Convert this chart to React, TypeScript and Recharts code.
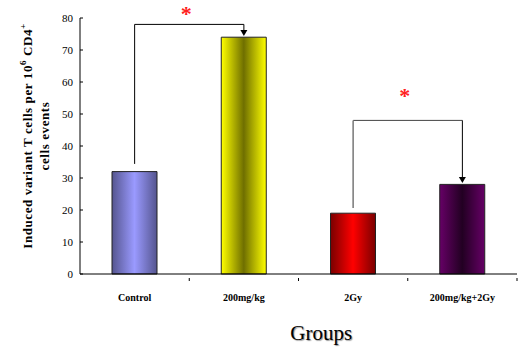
import React from 'react';
import { BarChart, Bar, XAxis, YAxis, Cell, ReferenceLine, ReferenceDot, Label } from 'recharts';

const categories = ['Control', '200mg/kg', '2Gy', '200mg/kg+2Gy'];
const values = [32, 74, 19, 28];
const yTicks = [0, 10, 20, 30, 40, 50, 60, 70, 80];

// gradient stops: [edge, center]
const gradients = [
  ['#55558f', '#9a9aff'],
  ['#ffff00', '#6f6f00'],
  ['#7a0000', '#ff0000'],
  ['#660066', '#220022'],
];

// significance brackets
const bracket1 = { from: 'Control', to: '200mg/kg', top: 78, leftFoot: 34.4, target: 74 };
const bracket2 = { from: '2Gy', to: '200mg/kg+2Gy', top: 48, leftFoot: 20.6, target: 28 };

const data = categories.map((c, i) => ({ name: c, value: values[i] }));

const SERIF = '"Liberation Serif", "Times New Roman", serif';

const Arrow = (props: any) => {
  const { cx, cy } = props;
  if (cx == null || cy == null) return null;
  return <path d={`M${cx - 3.5},${cy - 6} L${cx + 3.5},${cy - 6} L${cx},${cy} Z`} fill="#000" />;
};

const XTick = (props: any) => {
  const { x, y, payload, width, visibleTicksCount } = props;
  const band = (width || 436) / (visibleTicksCount || 4);
  return (
    <g>
      <line x1={x + band / 2} x2={x + band / 2} y1={y - 4} y2={y - 1} stroke="#000" />
      <text x={x} y={y + 19} textAnchor="middle" fontFamily={SERIF} fontWeight="bold" fontSize={10} fill="#000">
        {payload.value}
      </text>
    </g>
  );
};

const YLabel = (props: any) => {
  const { viewBox } = props;
  const cy = viewBox.y + viewBox.height / 2 - 10;
  return (
    <g>
      <text
        transform={`translate(32, ${cy}) rotate(-90)`}
        textAnchor="middle"
        fontFamily={SERIF}
        fontWeight="bold"
        fontSize={13}
        letterSpacing={0.6}
        fill="#000"
      >
        Induced variant T cells per 10
        <tspan fontSize={9} dy={-6}>6</tspan>
        <tspan dy={6}> CD4</tspan>
        <tspan fontSize={9} dy={-6}>+</tspan>
      </text>
      <text
        transform={`translate(49, ${cy}) rotate(-90)`}
        textAnchor="middle"
        fontFamily={SERIF}
        fontWeight="bold"
        fontSize={13}
        letterSpacing={0.6}
        fill="#000"
      >
        cells events
      </text>
    </g>
  );
};

const GroupsLabel = (props: any) => {
  const { viewBox } = props;
  return (
    <text
      x={viewBox.x + viewBox.width * 0.552}
      y={viewBox.y + 66}
      textAnchor="middle"
      fontFamily={SERIF}
      fontSize={21}
      fill="#000"
      style={{ textShadow: '1px 1px 1px #999' }}
    >
      Groups
    </text>
  );
};

const Star = (props: any) => {
  const { viewBox, dyOff } = props;
  return (
    <text
      x={viewBox.x + viewBox.width / 2 - 3}
      y={viewBox.y - dyOff}
      textAnchor="middle"
      fontFamily={SERIF}
      fontWeight="bold"
      fontSize={22}
      fill="#ff2020"
    >
      *
    </text>
  );
};

export default function App() {
  return (
    <div style={{ position: 'absolute', left: 0, top: 0, background: '#fff' }}>
      <BarChart
        width={521}
        height={358}
        data={data}
        margin={{ top: 18, right: 4, bottom: 0, left: 0 }}
      >
        <defs>
          {gradients.map((g, i) => (
            <linearGradient key={i} id={`grad${i}`} x1="0" y1="0" x2="1" y2="0">
              <stop offset="0%" stopColor={g[0]} />
              <stop offset="50%" stopColor={g[1]} />
              <stop offset="100%" stopColor={g[0]} />
            </linearGradient>
          ))}
        </defs>
        <XAxis
          dataKey="name"
          axisLine={{ stroke: '#000' }}
          tickLine={false}
          tick={<XTick />}
          height={84}
          interval={0}
        >
          <Label content={<GroupsLabel />} />
        </XAxis>
        <YAxis
          domain={[0, 80]}
          ticks={yTicks}
          interval={0}
          width={80}
          axisLine={{ stroke: '#000' }}
          tickLine={{ stroke: '#000' }}
          tickSize={-3}
          tickMargin={10}
          tick={{ fontFamily: SERIF, fontSize: 11, fill: '#000' }}
        >
          <Label content={<YLabel />} />
        </YAxis>
        <Bar dataKey="value" barSize={45} isAnimationActive={false} stroke="#222" strokeWidth={1}>
          {data.map((d, i) => (
            <Cell key={d.name} fill={`url(#grad${i})`} />
          ))}
        </Bar>

        {/* bracket 1 */}
        <ReferenceLine
          segment={[{ x: bracket1.from, y: bracket1.top }, { x: bracket1.to, y: bracket1.top }]}
          stroke="#000"
          strokeWidth={1}
        >
          <Label content={<Star dyOff={3} />} />
        </ReferenceLine>
        <ReferenceLine
          segment={[{ x: bracket1.from, y: bracket1.leftFoot }, { x: bracket1.from, y: bracket1.top }]}
          stroke="#000"
        />
        <ReferenceLine
          segment={[{ x: bracket1.to, y: bracket1.target + 1.5 }, { x: bracket1.to, y: bracket1.top }]}
          stroke="#000"
        />
        <ReferenceDot x={bracket1.to} y={bracket1.target + 0.4} shape={<Arrow />} />

        {/* bracket 2 */}
        <ReferenceLine
          segment={[{ x: bracket2.from, y: bracket2.top }, { x: bracket2.to, y: bracket2.top }]}
          stroke="#444"
          strokeWidth={1}
        >
          <Label content={<Star dyOff={17} />} />
        </ReferenceLine>
        <ReferenceLine
          segment={[{ x: bracket2.from, y: bracket2.leftFoot }, { x: bracket2.from, y: bracket2.top }]}
          stroke="#777"
          strokeWidth={1.5}
        />
        <ReferenceLine
          segment={[{ x: bracket2.to, y: bracket2.target + 1.5 }, { x: bracket2.to, y: bracket2.top }]}
          stroke="#000"
        />
        <ReferenceDot x={bracket2.to} y={bracket2.target + 0.4} shape={<Arrow />} />
      </BarChart>
    </div>
  );
}
